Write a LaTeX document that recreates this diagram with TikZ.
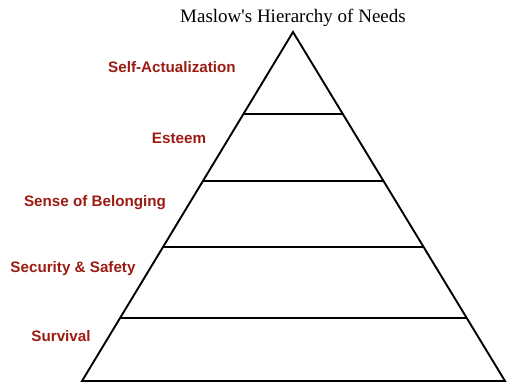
\documentclass[tikz,border=0pt]{standalone}
\usepackage{fontspec}
\setmainfont{Liberation Serif}
\newfontfamily\labelfont{Liberation Sans}
\definecolor{lvl}{RGB}{155,28,18}
\begin{document}
\begin{tikzpicture}[x=1pt,y=-1pt,
  edge/.style={line width=1.9pt,line join=miter},
  band/.style={line width=1.9pt},
  lvllabel/.style={anchor=base,inner sep=0pt,text=lvl,font=\labelfont\bfseries\fontsize{15.2}{17}\selectfont},
  titlelabel/.style={anchor=base,inner sep=0pt,font=\fontsize{19}{22}\selectfont}]
\useasboundingbox[fill=white] (0,0) rectangle (513,384);
\coordinate (apex) at (293,32);
\coordinate (bl) at (82,381);
\coordinate (br) at (505,381);
\draw[edge] (apex) -- (bl) -- (br) -- cycle;
% horizontal divisions on the edges
\foreach \n/\yy in {a/114,b/181,c/247,d/318}{
  \path (apex) -- (bl) coordinate[pos={(\yy-32)/349}] (l\n);
  \path (apex) -- (br) coordinate[pos={(\yy-32)/349}] (r\n);
  \draw[band] (l\n) -- (r\n);
}
\node[titlelabel] (title) at (293,22) {Maslow\textquotesingle s Hierarchy of Needs};
\node[lvllabel] (self) at (172,72) {Self-Actualization};
\node[lvllabel] (est) at (179,143) {Esteem};
\node[lvllabel] (bel) at (95,206) {Sense of Belonging};
\node[lvllabel] (sec) at (73,272) {Security \& Safety};
\node[lvllabel] (sur) at (61,341) {Survival};
\end{tikzpicture}
\end{document}
